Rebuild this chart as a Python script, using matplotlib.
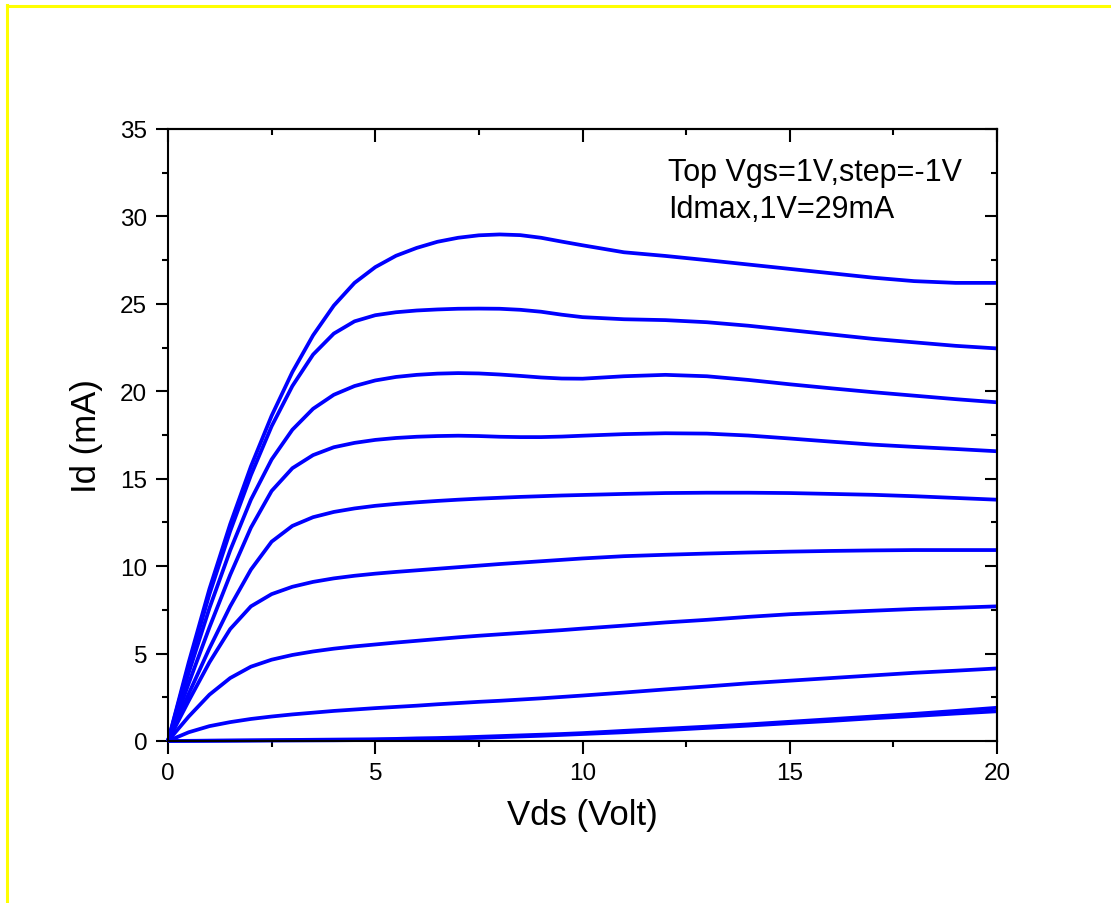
import matplotlib
matplotlib.use("Agg")
import matplotlib.pyplot as plt
from matplotlib.lines import Line2D
from matplotlib.ticker import MultipleLocator

plt.rcParams['font.family'] = ['Liberation Sans', 'DejaVu Sans']

vds = [0, 0.5, 1, 1.5, 2, 2.5, 3, 3.5, 4, 4.5, 5, 5.5, 6, 6.5, 7, 7.5, 8, 8.5, 9, 9.5, 10,
       11, 12, 13, 14, 15, 16, 17, 18, 19, 20]

id_vgs_p1 = [0, 4.5, 8.7, 12.4, 15.7, 18.6, 21.1, 23.2, 24.9, 26.2, 27.1, 27.75, 28.2, 28.55, 28.78, 28.92,
             28.97, 28.93, 28.78, 28.56, 28.35,
             27.95, 27.74, 27.5, 27.25, 27.0, 26.75, 26.5, 26.3, 26.2, 26.2]
id_vgs_0 = [0, 4.3, 8.4, 12.0, 15.2, 18.0, 20.3, 22.1, 23.3, 24.0, 24.35, 24.52, 24.62, 24.68, 24.72, 24.73,
            24.72, 24.66, 24.55, 24.38, 24.24,
            24.12, 24.07, 23.95, 23.75, 23.5, 23.25, 23.0, 22.8, 22.6, 22.45]
id_vgs_m1 = [0, 3.9, 7.6, 10.9, 13.8, 16.1, 17.8, 19.0, 19.8, 20.3, 20.62, 20.82, 20.94, 21.01, 21.04, 21.02,
             20.96, 20.88, 20.79, 20.73, 20.72,
             20.86, 20.94, 20.86, 20.65, 20.4, 20.17, 19.95, 19.75, 19.55, 19.37]
id_vgs_m2 = [0, 3.3, 6.5, 9.5, 12.2, 14.3, 15.6, 16.35, 16.8, 17.05, 17.22, 17.33, 17.4, 17.44, 17.46, 17.44,
             17.4, 17.38, 17.38, 17.41, 17.46,
             17.55, 17.6, 17.58, 17.47, 17.3, 17.12, 16.95, 16.82, 16.7, 16.57]
id_vgs_m3 = [0, 2.7, 5.3, 7.7, 9.8, 11.4, 12.3, 12.8, 13.1, 13.3, 13.45, 13.56, 13.65, 13.73, 13.8, 13.86,
             13.91, 13.96, 14.0, 14.04, 14.07,
             14.13, 14.18, 14.2, 14.2, 14.18, 14.13, 14.08, 14.0, 13.9, 13.8]
id_vgs_m4 = [0, 2.3, 4.5, 6.4, 7.7, 8.4, 8.82, 9.1, 9.3, 9.45, 9.57, 9.67, 9.76, 9.85, 9.94, 10.03,
             10.12, 10.2, 10.28, 10.36, 10.44,
             10.57, 10.65, 10.72, 10.78, 10.83, 10.87, 10.9, 10.92, 10.92, 10.92]
id_vgs_m5 = [0, 1.4, 2.65, 3.6, 4.25, 4.65, 4.92, 5.12, 5.28, 5.41, 5.52, 5.63, 5.73, 5.83, 5.93, 6.02,
             6.1, 6.18, 6.26, 6.34, 6.43,
             6.6, 6.78, 6.93, 7.1, 7.25, 7.35, 7.45, 7.55, 7.62, 7.7]
id_vgs_m6 = [0, 0.5, 0.85, 1.08, 1.26, 1.4, 1.52, 1.62, 1.72, 1.8, 1.88, 1.95, 2.02, 2.1, 2.17, 2.24,
             2.3, 2.37, 2.44, 2.52, 2.6,
             2.77, 2.95, 3.12, 3.3, 3.45, 3.6, 3.75, 3.9, 4.02, 4.15]
id_vgs_m7 = [0, 0.01, 0.02, 0.03, 0.04, 0.05, 0.06, 0.07, 0.08, 0.09, 0.1, 0.12, 0.15, 0.17, 0.2, 0.24,
             0.28, 0.32, 0.36, 0.4, 0.45,
             0.58, 0.7, 0.82, 0.95, 1.1, 1.25, 1.4, 1.55, 1.72, 1.9]
id_vgs_m8 = [0, 0.005, 0.01, 0.015, 0.02, 0.025, 0.03, 0.035, 0.04, 0.05, 0.07, 0.08, 0.1, 0.12, 0.15, 0.18,
             0.22, 0.26, 0.3, 0.35, 0.4,
             0.5, 0.62, 0.75, 0.88, 1.02, 1.15, 1.3, 1.43, 1.57, 1.7]

curves = [id_vgs_p1, id_vgs_0, id_vgs_m1, id_vgs_m2, id_vgs_m3,
          id_vgs_m4, id_vgs_m5, id_vgs_m6, id_vgs_m7, id_vgs_m8]

fig = plt.figure(figsize=(11.11, 9.04), dpi=100)
ax = fig.add_axes([168 / 1111, (904 - 742) / 904, 829 / 1111, 612 / 904])

for c in curves:
    ax.plot(vds, c, color='#0000FF', lw=2.7, solid_joinstyle='round', solid_capstyle='butt', clip_on=False)

ax.set_xlim(0, 20)
ax.set_ylim(0, 35)
ax.xaxis.set_major_locator(MultipleLocator(5))
ax.xaxis.set_minor_locator(MultipleLocator(2.5))
ax.yaxis.set_major_locator(MultipleLocator(5))
ax.yaxis.set_minor_locator(MultipleLocator(2.5))

for s in ax.spines.values():
    s.set_linewidth(1.5)

ax.tick_params(which='major', direction='out', length=9, width=1.5, labelsize=17.5, pad=6)
ax.tick_params(which='minor', direction='out', length=4.5, width=1.5)

secx = ax.secondary_xaxis('top')
secx.xaxis.set_major_locator(MultipleLocator(5))
secx.xaxis.set_minor_locator(MultipleLocator(2.5))
secx.tick_params(which='major', direction='in', length=9, width=1.5, labeltop=False)
secx.tick_params(which='minor', direction='in', length=4.5, width=1.5)
secx.spines['top'].set_linewidth(1.5)

secy = ax.secondary_yaxis('right')
secy.yaxis.set_major_locator(MultipleLocator(5))
secy.yaxis.set_minor_locator(MultipleLocator(2.5))
secy.tick_params(which='major', direction='in', length=9, width=1.5, labelright=False)
secy.tick_params(which='minor', direction='in', length=4.5, width=1.5)
secy.spines['right'].set_linewidth(1.5)

ax.set_xlabel('Vds (Volt)', fontsize=25, labelpad=10)
ax.set_ylabel('Id (mA)', fontsize=25, labelpad=12)

ax.text(500 / 829, (742 - 181) / 612, 'Top Vgs=1V,step=-1V', transform=ax.transAxes,
        fontsize=22, va='baseline', ha='left')
ax.text(500 / 829, (742 - 218) / 612, 'Idmax,1V=29mA', transform=ax.transAxes,
        fontsize=22, va='baseline', ha='left')

fig.add_artist(Line2D([7 / 1111, 1.0], [1 - 6.5 / 904, 1 - 6.5 / 904], color='#FFFF00', lw=2.2,
                      transform=fig.transFigure))
fig.add_artist(Line2D([7 / 1111, 7 / 1111], [1 - 5.5 / 904, 0.0], color='#FFFF00', lw=2.2,
                      transform=fig.transFigure))

fig.savefig('out.png', dpi=100)
